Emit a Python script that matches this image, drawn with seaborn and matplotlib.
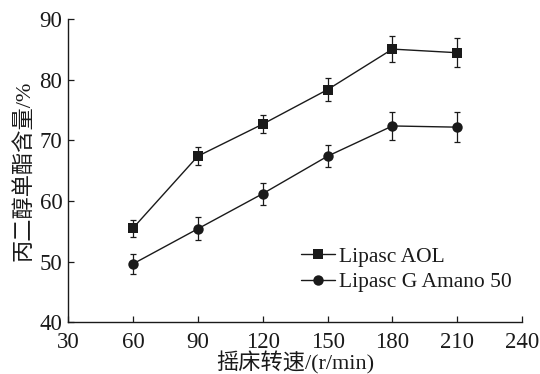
import matplotlib
matplotlib.use("Agg")
import matplotlib.pyplot as plt
import numpy as np
import pandas as pd
import seaborn as sns

# Shaking speed (r/min)
speed = [60, 90, 120, 150, 180, 210]
# Propylene glycol monoester content (%) and standard deviations
aol_mean = [55.5, 67.4, 72.7, 78.4, 85.1, 84.5]
aol_err = [1.4, 1.5, 1.5, 1.9, 2.2, 2.4]
amano_mean = [49.6, 55.4, 61.2, 67.4, 72.4, 72.2]
amano_err = [1.6, 1.9, 1.8, 1.8, 2.3, 2.5]
series_names = ["Lipasc AOL", "Lipasc G Amano 50"]

x_ticks = [30, 60, 90, 120, 150, 180, 210, 240]
y_ticks = [40, 50, 60, 70, 80, 90]

sns.set_theme(style="ticks")
serif = ["Liberation Serif", "Noto Sans CJK SC"]
plt.rcParams["font.family"] = serif

df = pd.DataFrame({
    "speed": speed * 2,
    "value": aol_mean + amano_mean,
    "enzyme": [series_names[0]] * len(speed) + [series_names[1]] * len(speed),
})

fig = plt.figure(figsize=(5.4, 3.74), dpi=100)
ax = fig.add_axes([0.126, 0.139, 0.841, 0.809])

sns.lineplot(data=df, x="speed", y="value", hue="enzyme", style="enzyme",
             markers={series_names[0]: "s", series_names[1]: "o"},
             dashes=False, palette=["#1a1a1a", "#1a1a1a"],
             linewidth=1.0, markersize=6.5, markeredgewidth=0,
             ax=ax, legend=True)
# Circles drawn a little larger than squares
for line in ax.lines:
    if line.get_marker() == "o":
        line.set_markersize(7.5)

for mean, err in ((aol_mean, aol_err), (amano_mean, amano_err)):
    ax.errorbar(speed, mean, yerr=err, fmt="none", ecolor="#1a1a1a",
                elinewidth=0.9, capsize=2.5, capthick=0.9)

ax.set_xlim(30, 240)
ax.set_ylim(40, 90)
ax.set_xticks(x_ticks)
ax.set_yticks(y_ticks)
ax.tick_params(direction="in", length=4, width=0.9, labelsize=16.5,
               colors="#1a1a1a")
ax.tick_params(axis="x", pad=7)
ax.tick_params(axis="y", pad=4)
for s in ("top", "right"):
    ax.spines[s].set_visible(False)
for s in ("left", "bottom"):
    ax.spines[s].set_linewidth(1.0)
    ax.spines[s].set_color("#1a1a1a")

ax.set_xlabel("摇床转速/(r/min)", fontsize=16, family=serif,
              color="#1a1a1a", labelpad=-1)
ax.set_ylabel("丙二醇单酯含量/%", fontsize=16, family=serif,
              color="#1a1a1a", labelpad=4)

handles, labels = ax.get_legend_handles_labels()
leg = ax.legend(handles, labels, loc="lower right",
                bbox_to_anchor=(0.995, 0.07), frameon=False,
                fontsize=15.5, handlelength=1.6, handletextpad=0.15,
                labelspacing=0.25, borderaxespad=0)
for t in leg.get_texts():
    t.set_color("#1a1a1a")

fig.savefig("out.png", dpi=100)
